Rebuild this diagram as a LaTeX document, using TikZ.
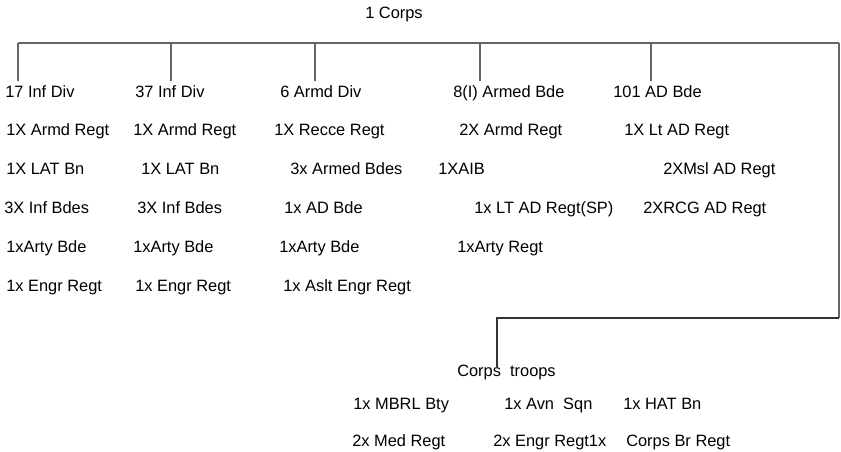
\documentclass[tikz,border=0pt]{standalone}
\usepackage{fontspec}
\setmainfont{Liberation Sans}
\usetikzlibrary{positioning}

\begin{document}
\begin{tikzpicture}[x=0.75pt,y=-0.75pt,
    unit/.style={anchor=base west,inner sep=0pt,font=\fontsize{12.3}{14}\selectfont},
    branch/.style={draw=black!60,line width=0.8pt},
    trunk/.style={draw=black!80,line width=1pt}]
\useasboundingbox (0,0) rectangle (841,452);
\node[unit] (corps) at (365,19) {1 Corps};
% formations
\node[unit] (div17) at (5,98) {17 Inf Div};
\node[unit] (div37) at (135,98) {37 Inf Div};
\node[unit] (div6) at (280,98) {6 Armd Div};
\node[unit] (bde8) at (453,98) {8(I) Armed Bde};
\node[unit] (bde101) at (613,98) {101 AD Bde};
% 17 Inf Div
\node[unit] (d17armd) at (6,136) {1X Armd Regt};
\node[unit] (d17lat) at (6,175) {1X LAT Bn};
\node[unit] (d17inf) at (4,214) {3X Inf Bdes};
\node[unit] (d17arty) at (6,252) {1xArty Bde};
\node[unit] (d17engr) at (6,291) {1x Engr Regt};
% 37 Inf Div
\node[unit] (d37armd) at (133,136) {1X Armd Regt};
\node[unit] (d37lat) at (141,175) {1X LAT Bn};
\node[unit] (d37inf) at (137,214) {3X Inf Bdes};
\node[unit] (d37arty) at (133,252) {1xArty Bde};
\node[unit] (d37engr) at (135,291) {1x Engr Regt};
% 6 Armd Div
\node[unit] (d6recce) at (274,136) {1X Recce Regt};
\node[unit] (d6armd) at (290,175) {3x Armed Bdes};
\node[unit] (d6ad) at (284,214) {1x AD Bde};
\node[unit] (d6arty) at (279,252) {1xArty Bde};
\node[unit] (d6engr) at (283,291) {1x Aslt Engr Regt};
% 8(I) Armed Bde
\node[unit] (b8armd) at (459,136) {2X Armd Regt};
\node[unit] (b8aib) at (438,175) {1XAIB};
\node[unit] (b8ad) at (474,214) {1x LT AD Regt(SP)};
\node[unit] (b8arty) at (457,252) {1xArty Regt};
% 101 AD Bde
\node[unit] (b101lt) at (624,136) {1X Lt AD Regt};
\node[unit] (b101msl) at (663,175) {2XMsl AD Regt};
\node[unit] (b101rcg) at (643,214) {2XRCG AD Regt};
% corps troops
\node[unit] (troops) at (457,376) {Corps\ \ troops};
\node[unit] (mbrl) at (353,409) {1x MBRL Bty};
\node[unit] (avn) at (504,409) {1x Avn\ \ Sqn};
\node[unit] (hat) at (623,409) {1x HAT Bn};
\node[unit] (med) at (352,446) {2x Med Regt};
\node[unit] (engr) at (493,446) {2x Engr Regt1x};
\node[unit] (bridge) at (626,446) {Corps Br Regt};
% tree lines
\coordinate (t17) at (18,43);
\coordinate (t37) at (171,43);
\coordinate (t6) at (315,43);
\coordinate (t8) at (480,43);
\coordinate (t101) at (651,43);
\coordinate (tR) at (839,43);
\coordinate (bendR) at (839,318);
\coordinate (bendL) at (497,318);
\draw[branch] (t17) -- (tR);
\draw[branch] (t17) -- ([yshift=4pt]t17 |- div17.north);
\draw[branch] (t37) -- ([yshift=4pt]t37 |- div37.north);
\draw[branch] (t6) -- ([yshift=4pt]t6 |- div6.north);
\draw[branch] (t8) -- ([yshift=4pt]t8 |- bde8.north);
\draw[branch] (t101) -- ([yshift=4pt]t101 |- bde101.north);
\draw[branch] (tR) -- (bendR);
\draw[trunk] (bendR) -- (bendL) -- ([yshift=7pt]bendL |- troops.base);
\end{tikzpicture}
\end{document}
